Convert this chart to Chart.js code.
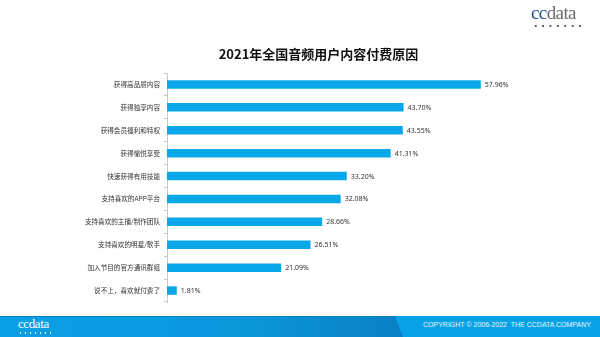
<!DOCTYPE html>
<html>
<head>
<meta charset="utf-8">
<script src="https://cdn.jsdelivr.net/npm/chart.js@4/dist/chart.umd.min.js"></script>
<style>
  html, body { margin:0; padding:0; background:#fff; }
  #wrap { position:relative; width:600px; height:337px; overflow:hidden; font-family:"Noto Sans CJK SC","Noto Sans",sans-serif; }
  #c { position:absolute; left:0; top:0; }
  #title { position:absolute; left:0; width:637px; top:45px; text-align:center; font-size:13px; font-weight:bold; color:#111; line-height:18px; }
  #logo { position:absolute; left:531px; top:2px; font-family:"Liberation Serif","DejaVu Serif",serif; font-size:19px; letter-spacing:-0.6px; }
  #logo .cc { color:#1f4e8c; }
  #logo .dt { color:#6b6b6b; }
  .dots { position:absolute; height:2px; background-image:radial-gradient(circle, currentColor 0.8px, transparent 1.1px); }
  #footer { position:absolute; left:0; top:316px; width:600px; height:21px;
    background:linear-gradient(90deg,#0b9fe3 0%,#0a98dd 40%,#0a8ad0 55%,#0a80c6 66%); border-top:1px solid #0b83c4; box-sizing:border-box; }
  #footR { position:absolute; left:395px; top:316px; width:205px; height:21px; background:#0aa2e7; clip-path:polygon(0 0,100% 0,100% 100%,8px 100%); }
  #flogo { position:absolute; left:18px; top:316px; font-family:"Liberation Serif","DejaVu Serif",serif; font-size:13px; color:#fff; letter-spacing:-0.4px; }
  #copy { position:absolute; left:423px; top:321px; font-family:"Liberation Sans","DejaVu Sans",sans-serif; font-size:7px; color:#e8f6ff; white-space:nowrap; }
</style>
</head>
<body>
<div id="wrap">
  <canvas id="c" width="600" height="337"></canvas>
  <div id="title">2021年全国音频用户内容付费原因</div>
  <div id="logo"><span class="cc">cc</span><span class="dt">data</span></div>
  <div class="dots" style="left:532px;top:25px;width:52px;color:#4a5a70;background-size:7.4px 2px;"></div>
  <div id="footer"></div>
  <div id="footR"></div>
  <div id="flogo">ccdata</div>
  <div class="dots" style="left:18px;top:332px;width:35px;color:#dff3ff;background-size:5px 2px;"></div>
  <div id="copy">COPYRIGHT © 2006-2022&nbsp; THE CCDATA COMPANY</div>
</div>
<script>
const categories = [
  "获得高品质内容",
  "获得独享内容",
  "获得会员福利和特权",
  "获得愉悦享受",
  "快速获得有用技能",
  "支持喜欢的APP平台",
  "支持喜欢的主播/制作团队",
  "支持喜欢的明星/歌手",
  "加入节目的官方通讯群组",
  "说不上，喜欢就付费了"
];
const values = [57.96, 43.70, 43.55, 41.31, 33.20, 32.08, 28.66, 26.51, 21.09, 1.81];
const valueLabels = ["57.96%","43.70%","43.55%","41.31%","33.20%","32.08%","28.66%","26.51%","21.09%","1.81%"];

const labelPlugin = {
  id: 'valLabels',
  afterDatasetsDraw(chart) {
    const ctx = chart.ctx;
    const meta = chart.getDatasetMeta(0);
    ctx.save();
    ctx.font = '7px "Noto Sans","DejaVu Sans",sans-serif';
    ctx.fillStyle = '#333';
    ctx.textAlign = 'left';
    ctx.textBaseline = 'middle';
    meta.data.forEach((bar, i) => {
      ctx.fillText(valueLabels[i], bar.x + 4, bar.y + 0.5);
    });
    ctx.restore();
  }
};

new Chart(document.getElementById('c'), {
  type: 'bar',
  data: {
    labels: categories,
    datasets: [{
      data: values,
      backgroundColor: '#0aa7e8',
      borderWidth: 0,
      barPercentage: 0.37,
      categoryPercentage: 1.0
    }]
  },
  options: {
    indexAxis: 'y',
    responsive: false,
    animation: false,
    devicePixelRatio: 1,
    layout: { padding: { left: 0, top: 73, right: 54, bottom: 35 } },
    plugins: { legend: { display: false }, tooltip: { enabled: false }, title: { display: false } },
    scales: {
      x: { display: false, min: 0, max: 70 },
      y: {
        afterFit(scale) { scale.width = 167; },
        grid: { display: true, drawOnChartArea: false, drawTicks: true, tickLength: 3, offset: true, color: '#c8c8c8', lineWidth: 1 },
        border: { display: true, color: '#c8c8c8', width: 1 },
        ticks: {
          padding: 4,
          color: '#333',
          font: { size: 6.6, family: '"Noto Sans CJK SC","Noto Sans",sans-serif' }
        }
      }
    }
  },
  plugins: [labelPlugin]
});
</script>
</body>
</html>
